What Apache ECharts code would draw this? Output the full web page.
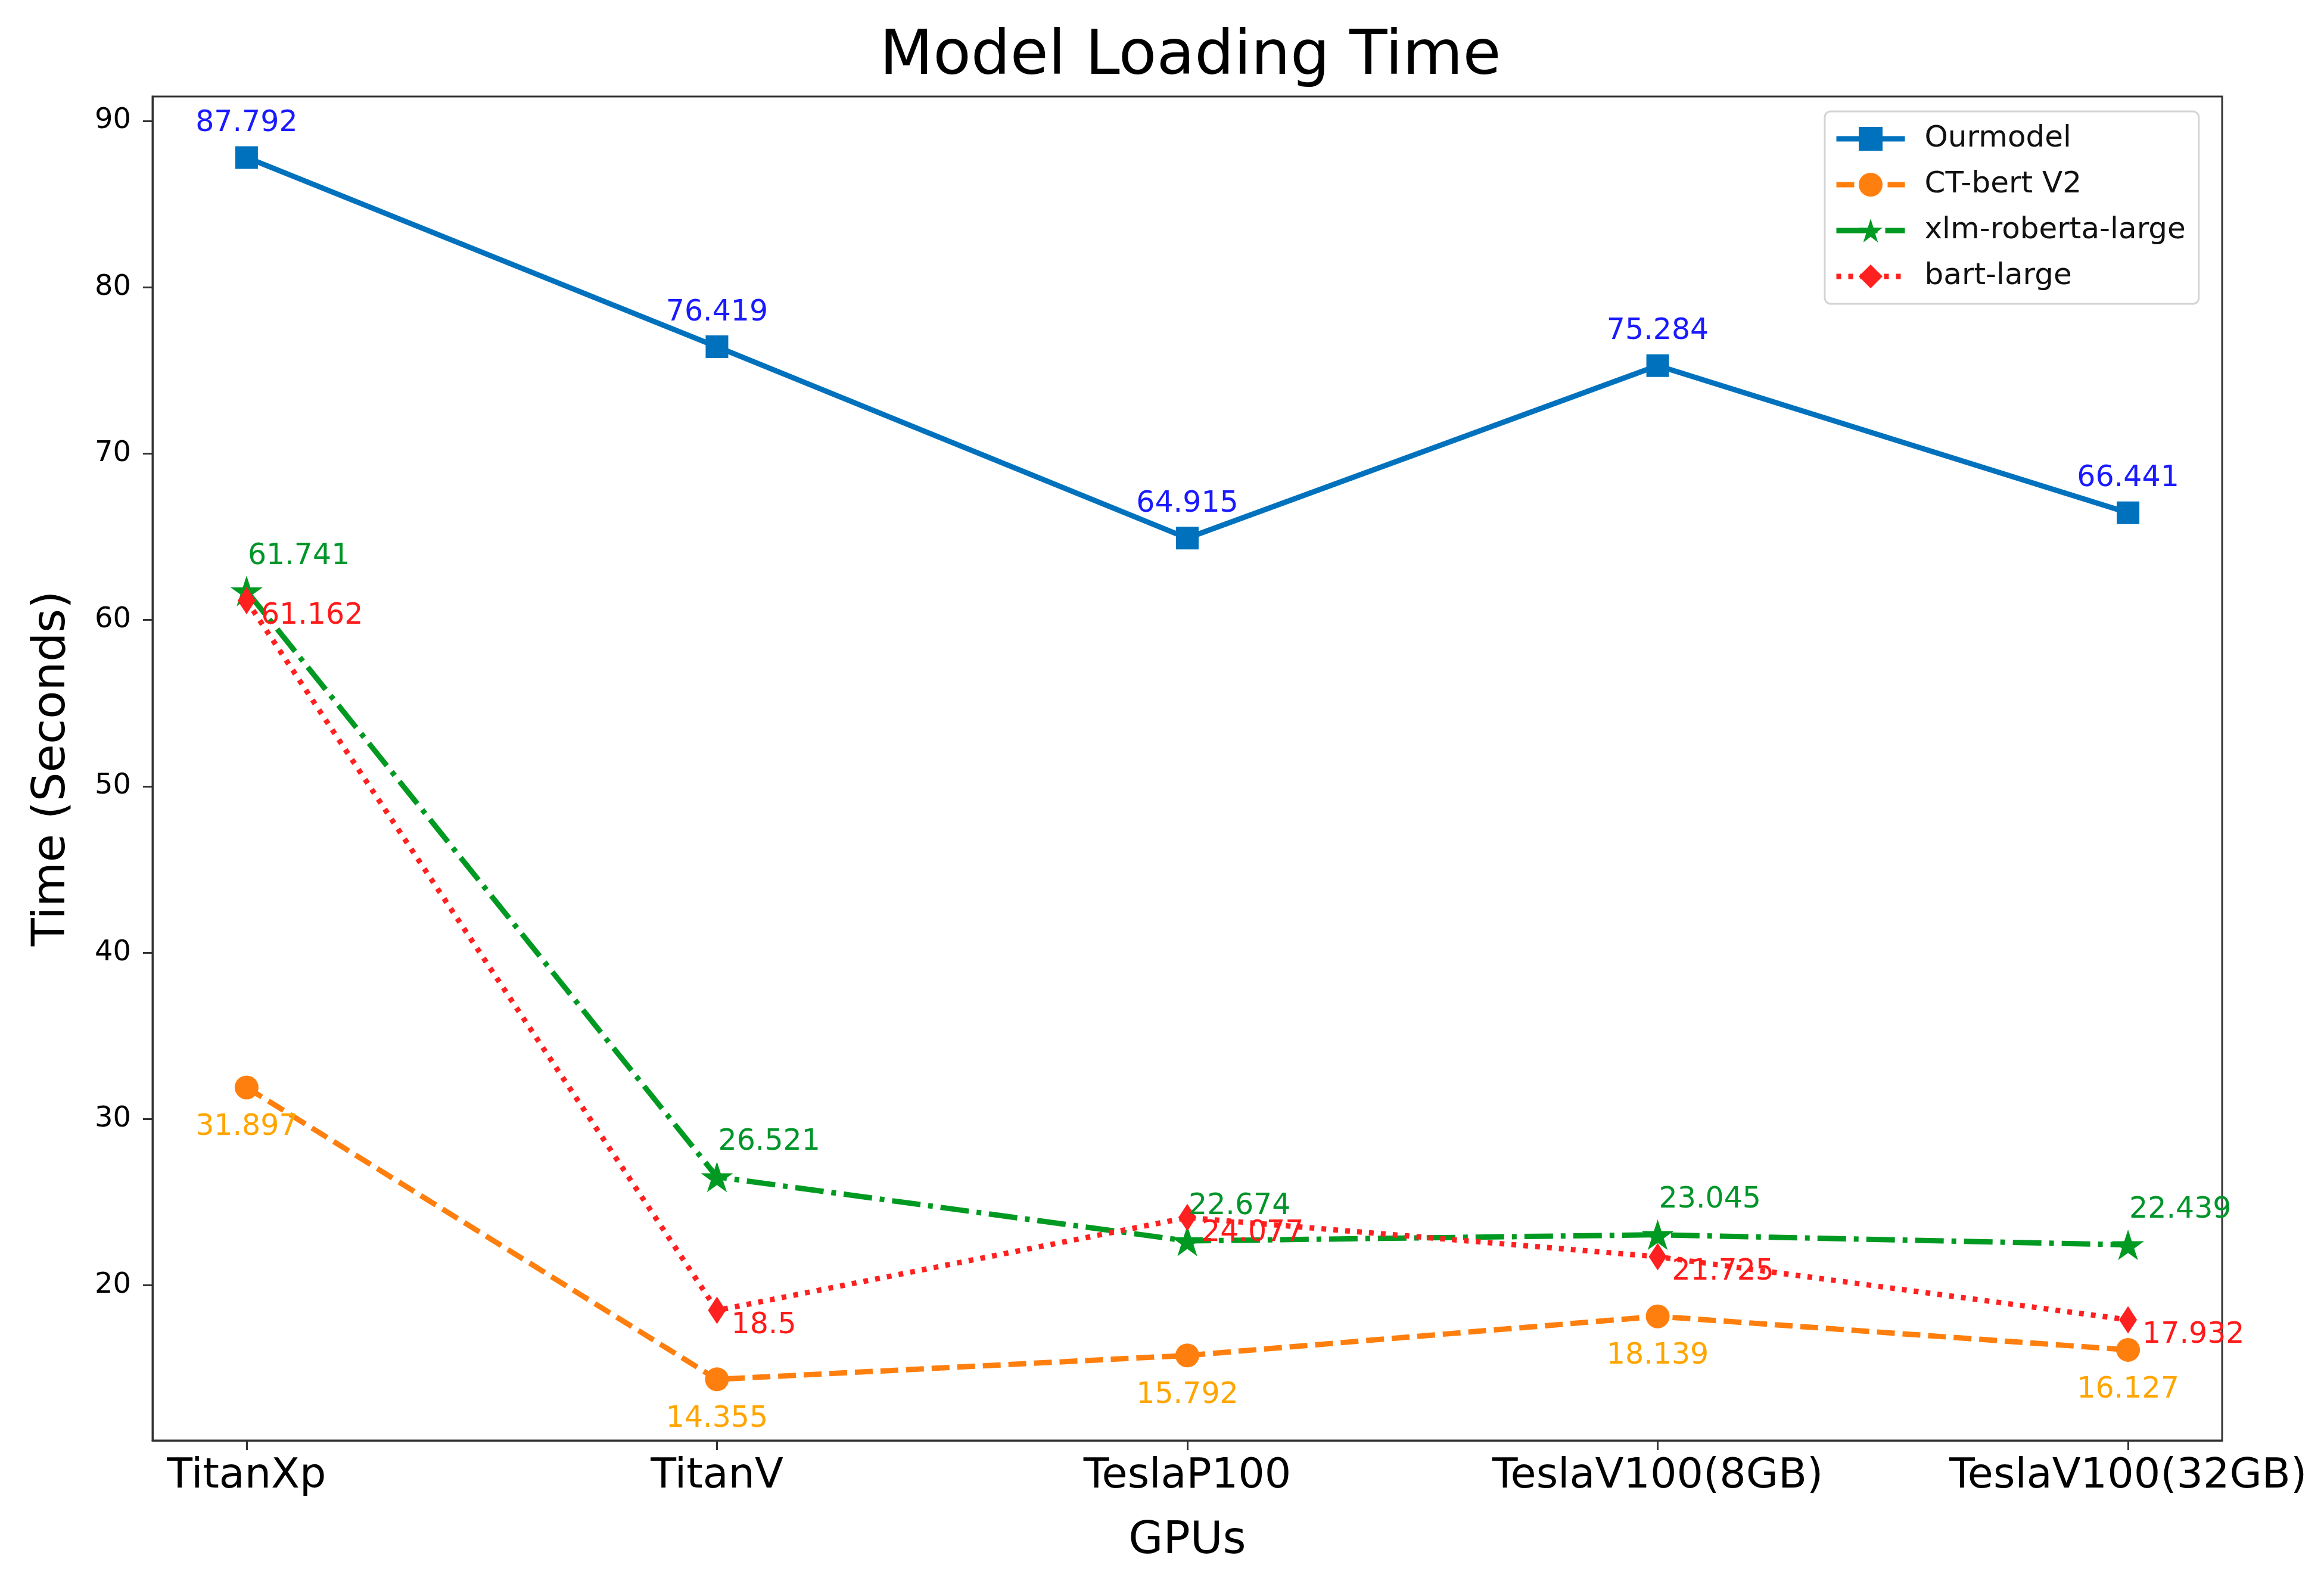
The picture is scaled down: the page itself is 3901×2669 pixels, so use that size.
<!DOCTYPE html>
<html>
<head>
<meta charset="utf-8">
<script src="https://cdn.jsdelivr.net/npm/echarts@6/dist/echarts.min.js"></script>
<style>
html,body{margin:0;padding:0;background:#fff;}
#chart{width:3901px;height:2669px;}
</style>
</head>
<body>
<div id="chart"></div>
<script>
const gpus = ['TitanXp', 'TitanV', 'TeslaP100', 'TeslaV100(8GB)', 'TeslaV100(32GB)'];
const ourmodel = [87.792, 76.419, 64.915, 75.284, 66.441];
const ctbert = [31.897, 14.355, 15.792, 18.139, 16.127];
const xlmRoberta = [61.741, 26.521, 22.674, 23.045, 22.439];
const bartLarge = [61.162, 18.5, 24.077, 21.725, 17.932];
const yTicks = [20, 30, 40, 50, 60, 70, 80, 90];
const seriesNames = ['Ourmodel', 'CT-bert V2', 'xlm-roberta-large', 'bart-large'];

const FONT = 'DejaVu Sans';
const starPath = 'path://M100,0L122.45,69.1L195.1,69.1L136.3,111.8L158.8,180.9L100,138.2L41.2,180.9L63.7,111.8L4.9,69.1L77.55,69.1Z';

function pts(arr) { return arr.map((v, i) => [i, v]); }

function mkSeries(name, data, color, labelColor, dash, symbol, symbolSize, labelOpt) {
  return {
    name: name,
    type: 'line',
    data: pts(data),
    symbol: symbol,
    symbolSize: symbolSize,
    symbolKeepAspect: true,
    itemStyle: { color: color },
    lineStyle: { color: color, width: 9, type: dash, cap: 'butt' },
    emphasis: { disabled: true },
    animation: false,
    label: Object.assign({
      show: true,
      position: 'inside',
      color: labelColor,
      fontFamily: FONT,
      fontSize: 49,
      verticalAlign: 'middle',
      formatter: p => String(p.value[1])
    }, labelOpt)
  };
}

const chart = echarts.init(document.getElementById('chart'), null, { renderer: 'canvas' });
chart.setOption({
  backgroundColor: '#ffffff',
  animation: false,
  title: {
    text: 'Model Loading Time',
    left: 1993, top: 40, textAlign: 'center',
    textStyle: { fontFamily: FONT, fontSize: 104, fontWeight: 'normal', color: '#000' }
  },
  legend: {
    data: seriesNames,
    orient: 'vertical',
    left: 3063, top: 187,
    padding: [21, 22, 21, 15],
    itemWidth: 115, itemHeight: 50,
    itemGap: 27,
    backgroundColor: '#fff',
    borderColor: '#d4d4d4', borderWidth: 3, borderRadius: 10,
    lineStyle: { width: 9 },
    textStyle: { fontFamily: FONT, fontSize: 50, color: '#111', lineHeight: 50, padding: [0, 0, 0, 28] }
  },
  grid: {
    left: 256, right: 171, top: 162, bottom: 251,
    show: true, borderColor: '#333', borderWidth: 3, backgroundColor: '#fff'
  },
  xAxis: {
    type: 'value', min: -0.2, max: 4.2,
    name: 'GPUs', nameLocation: 'middle', nameGap: 132,
    nameTextStyle: { fontFamily: FONT, fontSize: 75, color: '#000' },
    axisLine: { show: true, onZero: false, lineStyle: { color: '#333', width: 3 } },
    axisTick: { show: true, length: 16, lineStyle: { color: '#333', width: 3 }, customValues: [0, 1, 2, 3, 4] },
    axisLabel: {
      customValues: [0, 1, 2, 3, 4],
      formatter: v => gpus[Math.round(v)],
      fontFamily: FONT, fontSize: 70, color: '#000', margin: 26
    },
    splitLine: { show: false }
  },
  yAxis: {
    type: 'value', min: 10.68, max: 91.46,
    name: 'Time (Seconds)', nameLocation: 'middle', nameGap: 130, nameRotate: 90,
    nameTextStyle: { fontFamily: FONT, fontSize: 77, color: '#000' },
    axisLine: { show: true, onZero: false, lineStyle: { color: '#333', width: 3 } },
    axisTick: { show: true, length: 16, lineStyle: { color: '#333', width: 3 }, customValues: yTicks },
    axisLabel: {
      customValues: yTicks,
      fontFamily: FONT, fontSize: 48, color: '#000', margin: 36
    },
    splitLine: { show: false }
  },
  series: [
    mkSeries(seriesNames[0], ourmodel, '#0072BD', '#1a1aff', 'solid', 'rect', 38,
      { align: 'center', offset: [0, -57] }),
    mkSeries(seriesNames[1], ctbert, '#FF7F0E', '#FFA500', [30, 13], 'circle', 40,
      { align: 'center', offset: [0, 67] }),
    mkSeries(seriesNames[2], xlmRoberta, '#009A22', '#00952A', [48, 13, 8, 13], starPath, 54,
      { align: 'left', offset: [2, -58] }),
    mkSeries(seriesNames[3], bartLarge, '#FF2020', '#FF1A1A', [8, 12], 'diamond', [30, 46],
      { align: 'left', offset: [24, 26] })
  ]
});
</script>
</body>
</html>
